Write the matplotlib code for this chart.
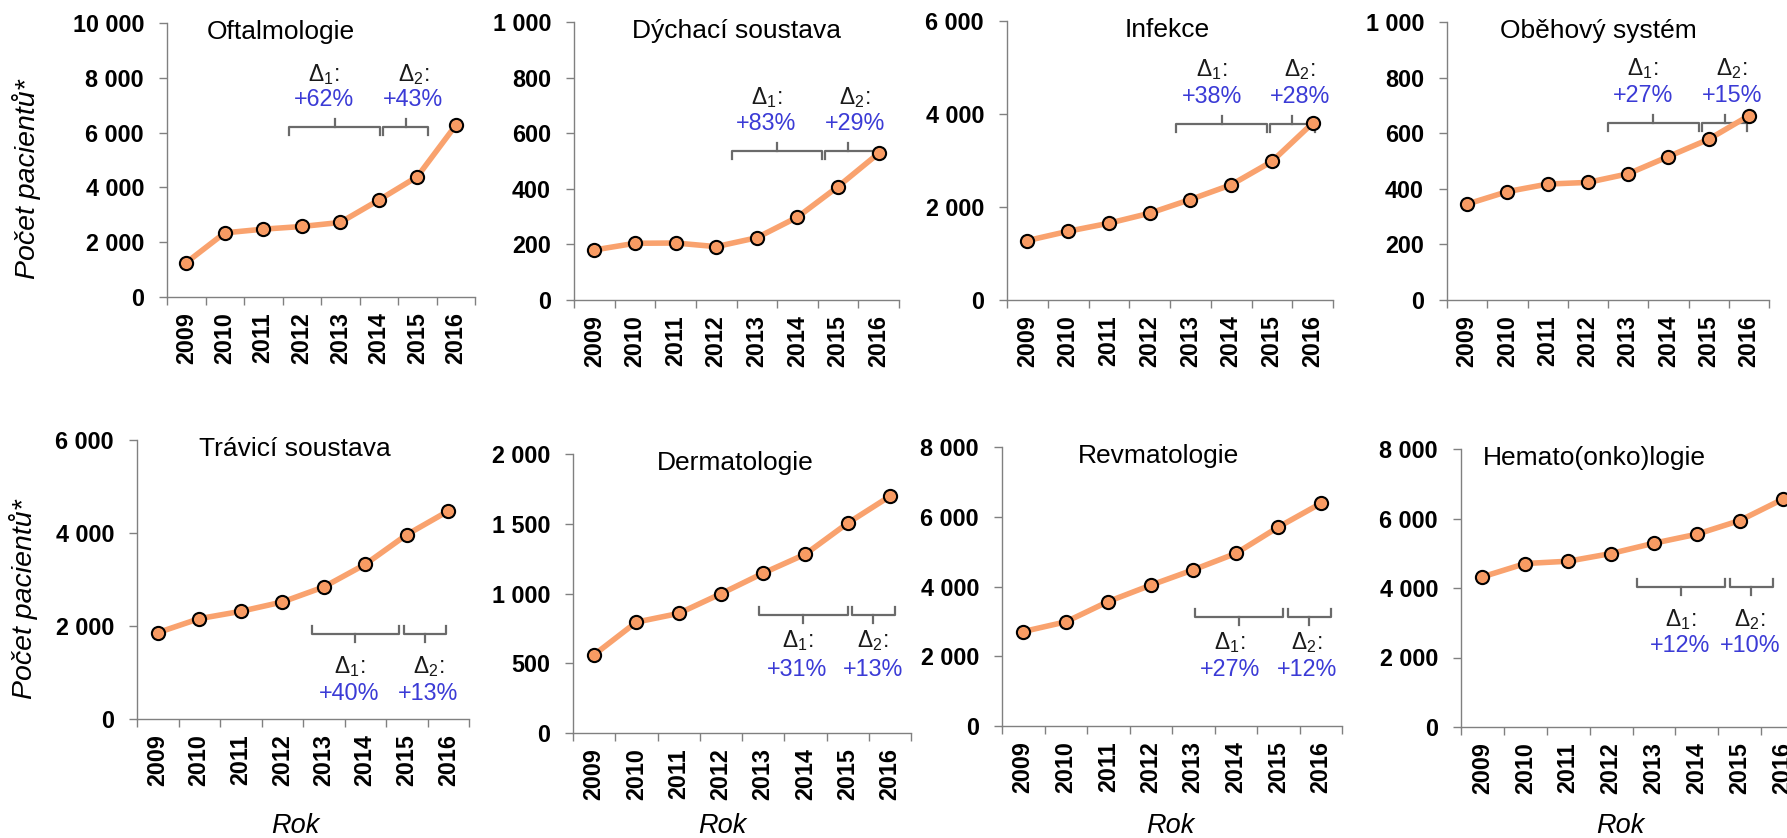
import numpy as np
import matplotlib
matplotlib.use("Agg")
import matplotlib.pyplot as plt
from matplotlib.ticker import FuncFormatter

plt.rcParams['font.family'] = ['Liberation Sans', 'DejaVu Sans']
plt.rcParams['mathtext.fontset'] = 'custom'
plt.rcParams['mathtext.rm'] = 'Liberation Sans'
plt.rcParams['mathtext.it'] = 'Liberation Sans:italic'

years = ['2009', '2010', '2011', '2012', '2013', '2014', '2015', '2016']

oftalmologie = [1256, 2341, 2476, 2573, 2720, 3537, 4390, 6268]
dychaci = [180, 204, 205, 192, 224, 298, 408, 528]
infekce = [1278, 1478, 1651, 1866, 2161, 2477, 2979, 3804]
obehovy = [345, 390, 417, 423, 454, 516, 578, 663]
travici = [1857, 2158, 2315, 2516, 2839, 3326, 3964, 4473]
dermatologie = [561, 795, 857, 998, 1146, 1282, 1504, 1697]
revmatologie = [2708, 2986, 3569, 4038, 4478, 4947, 5703, 6383]
hemato = [4321, 4704, 4771, 4992, 5289, 5548, 5940, 6553]

titles = ['Oftalmologie', 'Dýchací soustava', 'Infekce', 'Oběhový systém',
          'Trávicí soustava', 'Dermatologie', 'Revmatologie', 'Hemato(onko)logie']
series = [oftalmologie, dychaci, infekce, obehovy,
          travici, dermatologie, revmatologie, hemato]
delta1 = ['+62%', '+83%', '+38%', '+27%', '+40%', '+31%', '+27%', '+12%']
delta2 = ['+43%', '+29%', '+28%', '+15%', '+13%', '+13%', '+12%', '+10%']
ymax = [10000, 1000, 6000, 1000, 6000, 2000, 8000, 8000]
ystep = [2000, 200, 2000, 200, 2000, 500, 2000, 2000]

# layout (pixels in 1787x838 figure): left, right, top, bottom
W, H = 1787, 838
rects = [(167, 475, 23, 297), (574, 899, 22, 300), (1007, 1333, 21, 300), (1447, 1769, 22, 300),
         (137, 469, 440, 719), (573, 911, 454, 733), (1002, 1342, 447, 726), (1461, 1804, 449, 727)]
title_x = [0.37, 0.5, 0.49, 0.47, 0.476, 0.48, 0.46, 0.39]

# bracket layout: (x0, x1, xmid) for delta1 / delta2, bracket y, text x, label y
br1 = [(2.68, 5.04, 3.86), (3.38, 5.60, 4.50), (3.64, 5.89, 4.77), (3.51, 5.76, 4.62),
       (3.71, 5.82, 4.76), (3.90, 6.00, 4.95), (4.03, 6.12, 5.08), (3.60, 5.66, 4.62)]
br2 = [(5.11, 6.28, 5.70), (5.69, 6.86, 6.24), (5.95, 7.05, 6.50), (5.83, 6.96, 6.40),
       (5.93, 6.94, 6.44), (6.11, 7.12, 6.60), (6.24, 7.24, 6.73), (5.77, 6.77, 6.26)]
br_y = [6195, 536, 3789, 638, 1821, 847, 3139, 4043]
tx1 = [3.58, 4.23, 4.52, 4.37, 4.62, 4.81, 4.86, 4.62]
tx2 = [5.90, 6.42, 6.68, 6.58, 6.52, 6.60, 6.67, 6.24]
ty_delta = [8110, 730, 4952, 832, 1125, 661, 2392, 3104]
ty_pct = [7195, 635, 4378, 734, 538, 458, 1608, 2338]

line_col = '#F9A26E'
face_col = '#F89B63'
axis_col = '#808080'
br_col = '#6A6A6A'
blue = '#3B3BD6'

fmt = FuncFormatter(lambda v, p: '{:,}'.format(int(v)).replace(',', ' '))

fig = plt.figure(figsize=(W / 100, H / 100), dpi=100)
x = np.arange(len(years))

for i in range(8):
    l, r, t, b = rects[i]
    ax = fig.add_axes([l / W, 1 - b / H, (r - l) / W, (b - t) / H])
    ax.plot(x, series[i], color=line_col, lw=4, zorder=2, solid_capstyle='round')
    ax.plot(x, series[i], 'o', ms=9.5, mfc=face_col, mec='black', mew=1.5, zorder=3, clip_on=False)
    ax.set_xlim(-0.5, 7.5)
    ax.set_ylim(0, ymax[i])
    ax.set_yticks(np.arange(0, ymax[i] + 1, ystep[i]))
    ax.yaxis.set_major_formatter(fmt)
    ax.set_xticks(np.arange(-0.5, 8, 1))
    ax.set_xticklabels([])
    ax.set_xticks(x, years, minor=True)
    for s in ['top', 'right']:
        ax.spines[s].set_visible(False)
    for s in ['left', 'bottom']:
        ax.spines[s].set_color(axis_col)
        ax.spines[s].set_linewidth(1)
    ax.tick_params(axis='x', which='major', length=5.5, color=axis_col, width=1)
    ax.tick_params(axis='x', which='minor', length=0, pad=11, labelsize=16.8, labelrotation=90)
    ax.tick_params(axis='y', length=5.5, color=axis_col, width=1, pad=11, labelsize=16.8)
    for lab in ax.get_xticklabels(minor=True) + ax.get_yticklabels():
        lab.set_fontweight('bold')
    ax.text(title_x[i], 0.967, titles[i], transform=ax.transAxes, ha='center', va='center', fontsize=19)

    # brackets
    sgn = 1 if i < 4 else -1
    hook = ymax[i] * 8 / (b - t)
    y0 = br_y[i]
    for (x0, x1, xm) in (br1[i], br2[i]):
        ax.plot([x0, x0, x1, x1], [y0 - sgn * hook, y0, y0, y0 - sgn * hook],
                color=br_col, lw=1.6, zorder=1, solid_joinstyle='round')
        ax.plot([xm, xm], [y0, y0 + sgn * hook], color=br_col, lw=1.6, zorder=1)
    ax.text(tx1[i], ty_delta[i], 'Δ$_1$:', ha='center', va='center', fontsize=16.5, color='#1a1a1a')
    ax.text(tx2[i], ty_delta[i], 'Δ$_2$:', ha='center', va='center', fontsize=16.5, color='#1a1a1a')
    ax.text(tx1[i], ty_pct[i], delta1[i], ha='center', va='center', fontsize=16.8, color=blue)
    ax.text(tx2[i], ty_pct[i], delta2[i], ha='center', va='center', fontsize=16.8, color=blue)

# shared labels
fig.text(27 / W, 1 - 179 / H, 'Počet pacientů*', rotation=90, ha='center', va='center',
         fontsize=20.5, style='italic')
fig.text(24 / W, 1 - 599 / H, 'Počet pacientů*', rotation=90, ha='center', va='center',
         fontsize=20.5, style='italic')
for xp in [295, 722, 1170, 1620]:
    fig.text(xp / W, 1 - 826 / H, 'Rok', ha='center', va='center', fontsize=19.5, style='italic')

fig.savefig('out.png', dpi=100)
